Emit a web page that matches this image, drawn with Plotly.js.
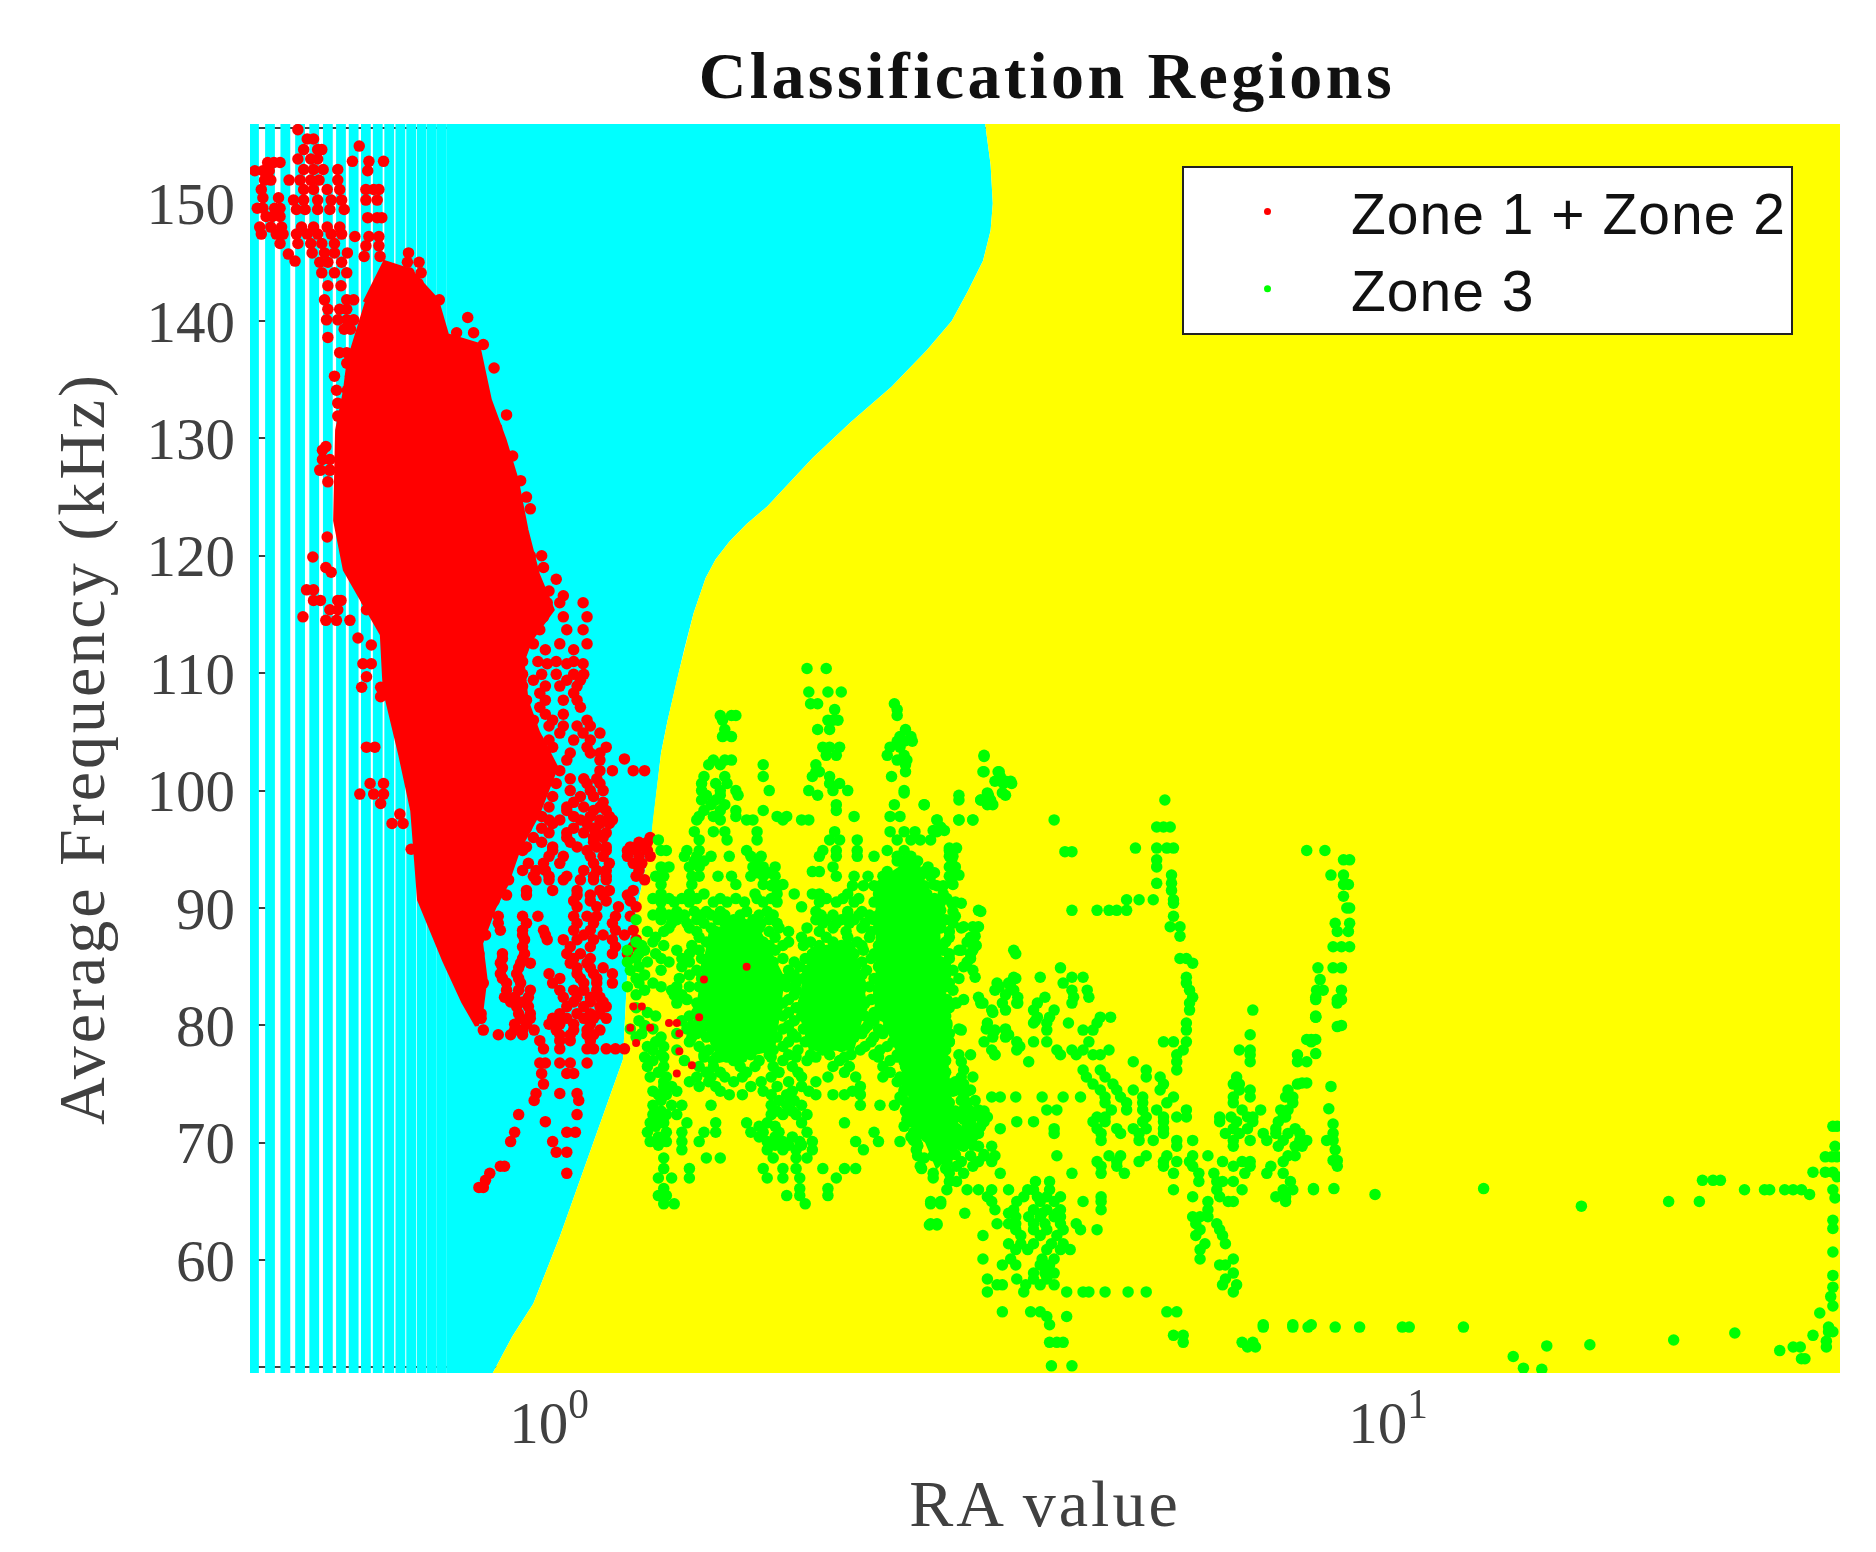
<!DOCTYPE html>
<html>
<head>
<meta charset="utf-8">
<script src="https://cdn.plot.ly/plotly-3.0.1.min.js"></script>
<style>
html,body{margin:0;padding:0;background:#fff}
#chart{width:1876px;height:1552px;filter:blur(0.6px)}
.gtitle{letter-spacing:3.4px}
.xtitle,.ytitle{letter-spacing:3px}
.legendtext{letter-spacing:1px}
</style>
</head>
<body>
<div id="chart"></div>
<script>
const titleText = "Classification Regions";
const xTitle = "RA value";
const yTitle = "Average Frequency (kHz)";
const seriesNames = ["Zone 1 + Zone 2", "Zone 3"];
const yTicks = [60,70,80,90,100,110,120,130,140,150];
const xTicks = [1,10];
const xTickText = ["10<sup>0</sup>","10<sup>1</sup>"];

// classification regions
const stripeRA = [.445,.465,.485,.505,.525,.545,.565,.585,.605,.625,.645,.665,.685,.705,.725,.745,.765,.785,.805];
const boundaryRA = [3.31,3.36,3.38,3.36,3.29,3.16,3.02,2.82,2.56,2.29,2.06,1.82,1.72,1.64,1.58,1.537,1.487,1.449,1.42,1.384,1.36,1.33,1.32,1.26,1.24,1.225,1.118,1.03,.958,.904,.857];
const boundaryFreq = [156.8,153.3,150,147.7,145.1,142.6,140,137.5,134.4,131.4,128.3,124.2,122.7,121.2,119.7,118.1,115.1,112,109.4,105.9,103.2,97.5,95.2,88.6,84.7,77.1,69.1,62,56.3,53.5,50.39];

// the solid part of the Zone 1 + Zone 2 cloud
const coreRA = [.603,.637,.683,.735,.756,.823,.850,.885,.915,.94,.97,1.01,.95,.93,.94,.97,1.02,.97,.92,.89,.86,.83,.84,.83,.82,.79,.75,.70,.687,.665,.637,.632,.571,.556,.559,.571,.579];
const coreFreq = [141.6,145,144.3,141.8,138.8,138,133.3,129.9,126.5,122.2,118.4,115.4,112.8,111,107.7,105,102,98,95,92,90,87,84,81,80,82,85.5,90.7,98.3,103,108.6,113.3,118.8,123,130.7,134,137.5];

// the solid parts of the Zone 3 cloud
const patchARA = [2.45,2.7,2.9,2.95,3.0,3.1,2.9,2.75,2.6,2.45];
const patchAFreq = [92,94,90,80,74,70,68,72,78,82];
const patchBRA = [1.55,1.75,1.9,1.85,1.6,1.5];
const patchBFreq = [88,89,84,78,77,82];
const patchCRA = [2.05,2.3,2.38,2.3,2.05,1.98];
const patchCFreq = [86.5,87,82,78,78,82];

// [frequency, RA, RA, ...]
const zone12Rows = [
[153.5,.462,.470,.478],[152.8,.446,.456,.464],[152,.458,.466],[151.2,.454],[150.5,.456,.476],[149.6,.449,.456,.471,.478],[148.9,.46,.468,.478],[148,.452,.466,.48],[147.4,.454,.473,.482],[146.6,.478],[145.7,.489],[145.1,.498],
[156.3,.502],[155.5,.515,.524],[154.6,.51,.53,.536],[153.8,.502,.52,.53],[152.9,.51,.524,.538,.56],[152,.49,.505,.52,.532,.56],[151.2,.51,.524,.544,.563],[150.3,.496,.51,.53,.55,.566],[149.5,.5,.512,.53,.548,.57],[148,.507,.524,.544,.563],[147.4,.5,.515,.53,.55,.566],[146.6,.502,.52,.536,.555],[145.8,.522,.54,.555,.575],[145,.533,.545,.566],[144.1,.536,.555,.574],[143,.545,.565],[141.8,.54,.574,.585],[141,.545,.563,.574],[140.1,.543,.56,.574,.585],[139.3,.57,.58],[138.6,.545],
[154.9,.594],[153.6,.583,.61,.635],[152.8,.608],[151.2,.605,.618,.627],[150.3,.605,.624],[148.8,.608,.624,.632],[147.2,.587,.61,.627],[146.4,.605,.627],[145.5,.602,.629],[145.8,.68],[145,.678,.7],[144.1,.681,.704],[143.2,.698],[141.8,.72,.74],[140.3,.8],[139,.776,.813],[138,.835],
[137.3,.563,.574],[136.4,.574],[135.3,.555,.58],[134.1,.558,.575],[133,.56,.574],[131.9,.56],[130.9,.866],[129.3,.542],[128.2,.537,.548],[127.3,.534,.548],[126.3,.545],[126.4,.925],
[129,.537],[127.3,.533,.548],[121.6,.544],[119.9,.523],[119,.542],[118.6,.55],[117.1,.514,.524],[116.2,.524,.534,.56,.565,.606],[115.4,.548,.56,.606],[114.5,.542,.558,.579],[114.8,.509],[113,.592],[112.4,.614],[110.8,.6,.614],[109.7,.606],[108.8,.598,.63],[108,.63,.658],[103.7,.606,.62],[100.6,.612,.635],[99.7,.595,.618,.635],[98.9,.63],[98,.664],[97.2,.65,.67],[95,.685],
[136,.86],[132,.89],[128.5,.905],[125,.94],[124,.95],[120,.98,.95],[119,.985],[116.6,1.04],[117,1.0],
[118,1.02],[116,.995,1.03,1.098],[114.8,.985,1.04,1.11],[113.7,.907,.975,1.05,1.098],[112.5,.958,1.03,1.11],[110.8,.907,.995,1.05,1.098],[109.4,.874,.925,.958,1.05,1.09],[108.3,.874,.915,.975,1.07],[107.1,.825,.907,.975,1.09],[106,.798,.874,.958,1.01,1.11],[104.9,.874,.94,1.03,1.098,1.15],[103.7,.825,.874,.958,1.01,1.11,1.17],[102.7,1.23],[102.6,.845,.958,1.05,1.15],[101.7,.958,1.03,1.15,1.19,1.26,1.3],[100.6,.845,.94,1.02,1.11,1.15],[99.5,.874,.925,1.01,1.09,1.13],[98.3,.798,.845,.94,1.05,1.13,1.17],[97.2,.762,.81,.874,.907,1.01,1.11,1.15,1.18],[96,.825,.89,.958,1.05,1.13,1.16,1.32],[94.9,.762,.874,.93,1.01,1.11,1.17,1.24,1.27,1.31],[93.8,.798,.88,.945,.985,1.03,1.13,1.18,1.26,1.29],[92.7,.755,.825,.958,1.0,1.05,1.13,1.17,1.27],[91.5,.728,.81,.94,1.01,1.08,1.15,1.18,1.26],
[98.6,.76,.80,.84,.87,.9,.93,1.0,1.05,1.1,1.15],[97.5,.785,.825,.865,.9,1.0,1.03,1.09,1.15,1.19],[96.4,.775,.81,.85,.89,.92,1.0,1.05,1.1,1.14,1.17],[95.2,.77,.8,.835,.87,.915,.94,1.01,1.08,1.14,1.17,1.25,1.3],[94.4,.78,.82,.86,.895,1.0,1.04,1.12,1.16,1.24,1.28,1.32],[93.2,.76,.8,.835,.87,.93,.965,.99,1.1,1.14,1.17,1.28],[92.4,.79,.83,.87,.895,.965,1.0,1.04,1.09,1.13,1.17,1.3],[91.1,.775,.815,.855,.89,.94,1.08,1.12,1.16,1.24],[90.1,.765,.8,.835,1.08,1.14,1.21,1.27],[89.3,.76,.805,.825,.87,.93,.97,1.07,1.11,1.14,1.2,1.25],[88.1,.785,.82,.875,.93,.985,1.07,1.12,1.2,1.26],[87.3,.79,.82,.935,.995,1.04,1.08,1.13,1.19,1.27],[86.1,.76,.805,.825,.88,.935,1.05,1.09,1.19,1.24],[85.3,.77,.815,.875,.925,.95,1.06,1.11],[84.4,.805,.875,.915,1.0,1.08,1.13,1.19],[83.6,.815,.835,.89,.925,1.01,1.1,1.14,1.19],[82.4,.82,.885,.91,.945,1.04,1.08,1.12,1.15],[81.6,.82,.915,.945,1.05,1.1,1.15,1.17],[80.6,.83,.925,.95,1.01,1.05,1.1,1.13,1.17],[79.6,.835,.91,.93,.96,1.02,1.07,1.11,1.15],[78.7,.975,1.03,1.06,1.12],[78,.985,1.03,1.11,1.13,1.17,1.2,1.23],[76.8,.975,.99,1.03,1.06,1.11],[75.9,.98,1.05,1.07],[75,.985],[74.2,.965,1.03,1.08],[73.6,.96,1.085],[72.4,.92,1.08],[71.8,.99],[70.9,.91,1.05,1.075],[70.1,.9,1.01],[69.2,1.02,1.05],[68,.885,.875],[67.4,.85,1.05],[66.8,.84],[66.2,.825,.835],
[112,.93,.99,1.07],[111,.93,.97,1.02,1.07],[109.9,.93,.98,1.02,1.07,1.1],[108.9,.93,.99,1.03,1.08],[107.7,.94,.99,1.04,1.08],[106.5,.94,.99,1.04],[105.5,.95,1.0,1.04,1.08,1.12],[104.3,.97,1.0,1.07,1.12],[103.2,.99,1.06,1.12,1.15],[101,.99,1.06,1.1,1.14],[100,.96,1.06,1.12,1.16],[99,.97,1.07,1.16],[97.8,.98,1.07,1.12,1.18],[96.8,.94,.98,1.07,1.13],[95.6,.98,1.06,1.13,1.28,1.31],
[90.6,.78,.82,.86,1.07,1.12,1.17,1.25],[88.7,.78,.83,.87,.94,1.08,1.13,1.19],[87.7,.8,.84,.93,.99,1.1,1.16,1.23],[86.7,.79,.82,.93,1.06,1.12,1.2,1.26],[85.7,.78,.82,.88,.93,1.07,1.12],[84.9,.79,.82,.88,.92,1.08,1.12,1.16],[84,.81,.88,.92,1.03,1.09,1.14],[83,.82,.89,.92,.95,1.03,1.07,1.1,1.14],[82,.82,.9,.93,1.07,1.12,1.16],[81,.83,.92,.95,1.03,1.08,1.12,1.15],[80.1,.91,.94,1.0,1.03,1.07,1.12],[79.2,.87,.9,.93,1.03,1.06,1.11,1.13]
];

// Zone 1 + Zone 2 points lying on top of the Zone 3 cloud
const zone12OverlapRows = [
[81.6,1.26,1.29],[85,1.72],[83.9,1.53],[80.7,1.51],[80.2,1.39,1.42],[79.3,1.43],[79.8,1.25,1.32],[78.5,1.27],[77.8,1.43],[76.6,1.48],[75.9,1.42]
];

const zone3Rows = [
[110.4,2.03,2.14],[108.4,2.04,2.15,2.23],[107.4,2.05,2.09,2.58],[106.9,2.19,2.6],[106.4,1.6,1.65,1.67,2.6],[106,1.61,2.15,2.18,2.21],[105.2,1.62,2.09,2.16,2.66],[104.6,1.61,1.65,2.62,2.7],[104.2,2.6,2.65,2.71],[103.7,2.12,2.16,2.22,2.55,2.62],[103,2.14,2.2,2.53,2.65,3.3],[102.6,1.57,1.62,1.65,2.6,2.67],[102.2,1.55,1.6,1.8,2.08,2.66],[101.6,2.08,2.1,3.3,3.44,2.66],[101.2,1.53,1.62,1.8,2.06,2.16,2.56,3.45],[100.6,1.52,1.58,1.63,2.16,2.22,3.48,3.56],[100,1.52,1.6,1.67,1.83,2.04,2.18,2.27,2.65],[99.6,1.54,1.6,1.68,2.09,3.08,3.34,3.5],[99.2,1.52,1.58,3.27,3.36],[98.8,1.56,1.62,2.2,2.8,3.38,2.58],[98.3,1.53,1.6,1.67,1.8,2.2],[97.8,1.51,1.57,1.67,1.87,1.92,2.31,2.55,2.62],[97.5,1.5,1.6,1.72,1.75,1.9,2.0,2.04,2.9,3.08,3.2],[96.5,1.49,1.57,1.62,1.77,2.19,2.55,2.65,2.73,2.9],[95.8,1.35,1.51,1.63,1.77,2.16,2.22,2.33,2.6,2.7,2.77,2.85],[94.9,1.36,1.38,1.46,1.51,1.72,2.2,2.12,2.33,2.53,2.65,3.0],[94.4,1.45,1.5,1.56,1.64,1.74,1.79,2.1,2.2,2.33,2.44,2.6,2.7,3.0,3.03],[93.5,1.36,1.39,1.47,1.51,1.75,1.8,1.86,2.18,2.65,2.73,2.83,3.0],[93.1,2.06,2.1,2.53,2.7,2.8],[92.7,1.34,1.37,1.48,1.51,1.59,1.65,1.74,1.8,1.86,2.2,2.31,2.4,2.5,2.67,2.77,2.85,3.0],[92,1.36,1.48,1.67,1.8,1.85,1.9,2.67,2.87,3.03],[91.2,1.36,1.47,1.53,1.76,1.87,2.06,2.1,2.27,2.47,2.6,2.72,2.82,1.96,2.95],[90.5,1.36,1.41,1.47,1.57,1.63,1.71,1.8,1.87,2.1,2.2,2.31,2.44,2.6,2.77,2.93,3.05],[90.1,2.0],[89.7,1.36,1.42,1.49,1.54,1.6,1.72,1.82,2.08,2.27,2.36,2.5,2.65,2.77,2.87,3.03,3.27],[89,1.27,1.36,1.42,1.5,1.59,1.66,1.75,1.83,2.08,2.14,2.23,2.31,2.44,2.58,2.7,2.83,2.97],[88.3,1.39,1.47,1.56,1.63,1.72,1.78,1.88,2.03,2.18,2.36,2.47,2.63,2.77,2.93,3.1,3.23],[87.5,1.34,1.51,1.6,1.69,1.76,1.86,2.0,2.14,2.27,2.41,2.53,2.72,2.87,3.0,3.18],[86.8,1.29,1.37,1.48,1.57,1.66,1.75,1.83,1.9,2.01,2.1,2.23,2.36,2.47,2.63,2.77,2.93,3.23],[86.1,1.28,1.34,1.47,1.56,1.63,1.72,1.82,2.06,2.18,2.31,2.44,2.58,2.72,2.85,3.0,3.18,3.6],[85.4,1.24,1.31,1.39,1.47,1.58,1.67,1.76,1.85,1.96,2.08,2.2,2.36,2.5,2.63,2.77,2.93,3.15],[84.7,1.25,1.36,1.5,1.57,1.66,1.75,1.83,1.93,2.03,2.14,2.27,2.39,2.53,2.72,2.9,3.03,3.2],[84,1.27,1.43,1.52,1.6,1.69,1.78,1.92,2.01,2.1,2.23,2.31,2.44,2.58,2.75,2.93,3.08,3.6],[83.3,1.24,1.36,1.42,1.47,1.51,1.58,1.67,1.75,1.92,2.03,2.16,2.29,2.41,2.53,2.7,2.82,2.97,3.44,3.55],[82.6,1.27,1.41,1.44,1.54,1.62,1.71,1.8,1.96,2.06,2.18,2.33,2.47,2.63,2.77,2.93,3.5],[81.9,1.42,1.5,1.6,1.67,1.78,1.9,2.01,2.12,2.25,2.38,2.5,2.72,2.93,3.05,3.27,3.62],[81.1,1.31,1.5,1.58,1.71,1.83,1.93,2.06,2.18,2.31,2.44,2.53,2.68,2.8,2.95,3.38],[80.4,1.28,1.44,1.51,1.6,1.67,1.76,1.85,1.96,2.08,2.2,2.31,2.44,2.62,2.77,2.9,3.8],[79.7,1.25,1.33,1.46,1.52,1.63,1.71,1.8,1.9,2.01,2.14,2.27,2.38,2.47,2.67,2.82,2.95,3.08,3.32,3.5],[79,1.27,1.36,1.48,1.54,1.66,1.76,1.87,1.97,2.06,2.18,2.31,2.44,2.6,2.75,2.9,3.38,3.5],[78.2,1.31,1.37,1.51,1.62,1.69,1.8,1.9,2.1,2.23,2.38,2.53,2.67,2.87,3.64],[77.5,1.36,1.53,1.65,1.74,1.83,1.93,2.05,2.16,2.29,2.44,2.6,2.77,2.93,3.08,3.4],
[77.3,1.3,1.37,1.53,1.585,1.63,1.7,1.84,1.97,2.08,2.25,2.47,2.6,2.74,2.87],[76.5,1.31,1.37,1.51,1.57,1.69,1.76,1.85,1.95,2.18,2.28,2.5,2.66,2.78,2.93],[75.6,1.32,1.38,1.5,1.56,1.62,1.7,1.84,2.0,2.15,2.32,2.5,2.7,2.85],[74.8,1.37,1.4,1.51,1.58,1.74,1.87,2.0,2.35,2.7,2.8,2.93],[74.1,1.35,1.38,1.64,1.7,1.84,1.92,2.08,2.18,2.25,2.35,2.72,2.85],[73.2,1.33,1.4,1.44,1.56,1.84,1.92,2.0,2.35,2.48,2.58,2.74,2.9],[72.4,1.33,1.38,1.42,1.84,1.9,1.97,2.03,2.7,2.78,2.93],[71.7,1.32,1.37,1.46,1.58,1.72,1.82,2.0,2.25,2.74,2.87],[70.9,1.31,1.38,1.44,1.53,1.58,1.74,1.8,1.88,2.03,2.44,2.72,2.85],[70.1,1.32,1.38,1.44,1.51,1.82,1.9,1.99,2.06,2.32,2.47,2.62,2.74,2.9],[69.4,1.44,1.82,1.9,1.97,2.06,2.37,2.74,2.9],[68.7,1.37,1.54,1.6,1.85,1.97,2.03,2.8,2.93],[67.8,1.37,1.47,1.8,1.9,1.97,2.12,2.25,2.32,2.78,2.97],[67,1.35,1.4,1.47,1.82,1.9,1.99,2.2,2.87],[66.1,1.37,1.99,2.15],[65.5,1.35,1.38,1.92,1.99,2.15],[64.8,1.37,1.41,2.02,2.85,2.93],[63,2.84,2.9],
[81.9,2.67,2.87,3.06,3.29,3.47,3.61,3.82,4.2,5.8],[81.3,2.62,2.77,2.93,3.37,3.5,3.78,4.0,5.8,6.9],[80.7,2.65,2.8,2.95,3.82,3.95,4.54,4.67,8.2],[80.2,2.7,2.83,2.98,3.33,3.78,3.92,4.16,4.5,5.75],[79.6,2.62,2.74,2.9,3.1,3.4,3.5,3.92,4.33,4.45,5.75],[79.2,2.67,2.8,2.95,3.53,6.85],[78.6,2.62,2.74,2.87,3.0,3.3,3.61,3.78,3.92,4.4,5.4,5.55,5.75,8.1],[77.9,2.67,2.8,2.93,3.37,3.61,4.03,4.2,4.33,4.65,5.7,6.65,6.85],[77.5,2.7,2.87,3.18,3.4,4.07,4.25,4.45,4.54,5.6,7.8,6.85],[76.9,2.65,2.8,2.93,3.1,3.73,4.97,5.6,6.85,7.8],[76.2,2.7,2.87,3.12,4.33,4.54,5.6,5.15],[75.6,2.62,2.77,2.93,3.1,3.2,4.37,4.6,5.15,5.35,6.6],[75,2.67,2.85,3.01,3.12,4.45,4.7,5.4,6.54,6.65,7.8],[74.5,2.65,2.8,2.93,3.06,3.18,4.54,4.75,4.97,5.35,6.65,6.85,7.6],[73.9,2.62,2.74,2.9,3.12,3.37,3.45,3.6,3.87,4.1,4.3,4.6,4.8,5.1,5.55,6.54,6.85,7.55],[73.4,2.7,2.8,3.0,3.15,4.6,4.88,5.1,5.45,6.54,7.7],[72.8,2.67,2.85,2.98,3.12,3.25,3.92,4.03,4.68,4.88,5.1,5.3,5.75,6.7,7.05,7.45,7.6],[72.2,2.72,2.9,3.06,3.2,3.33,4.5,4.6,5.15,5.4,5.6,5.75,6.3,6.5,6.8,6.9,7.5,7.55],[71.8,2.7,2.8,3.0,3.18,3.3,3.61,3.78,4.45,4.6,5.1,5.4,6.3,6.6,6.9,7.4],[71.2,2.75,2.9,3.06,3.2,3.45,4.0,4.5,4.75,4.97,5.15,5.4,6.54,6.8,7.35,7.75],[70.8,2.77,2.95,3.12,3.25,4.0,4.55,4.8,5.05,5.4,6.4,6.65,7.1,7.35,7.6,7.85],[70.2,2.72,2.87,3.03,3.18,4.55,5.05,5.25,5.6,5.85,6.54,6.85,7.17,7.5,7.85,8.0],[69.7,2.75,2.93,3.12,3.25,3.37,5.6,6.54,7.4,7.75,7.9],[68.9,2.75,2.87,3.0,3.18,3.3,3.4,4.03,4.65,4.8,5.15,5.45,5.85,6.1,7.75,7.6],[68.4,2.98,3.1,3.25,3.37,4.5,4.75,5.05,5.4,5.6,5.8,6.35,6.7,6.85,7.5],[68,2.77,3.06,3.2,4.55,4.75,5.4,5.85,6.54,6.85,7.25],[67.4,2.87,3.0,3.12,3.45,4.2,4.55,4.85,5.55,5.95,6.2,6.75,7.17,7.5],[66.7,3.0,3.06,3.95,3.8,5.95,6.25,6.35,6.54,7.65],[66,2.98,3.15,3.25,3.37,3.53,3.72,3.78,3.95,5.55,6.25,6.7,7.5,7.7,8.15],[65.4,5.85,6.3,7.35,7.55,3.33,3.68,3.82,3.92,4.07,4.55],[65,2.85,2.93,3.37,3.61,3.85,4.0,4.33,4.55,6.1,6.45,6.54,7.55],[64.3,3.4,3.58,3.78,3.92,4.07,4.55,6.1],[64,3.13,3.53,3.87,4.03],[63.7,3.6,3.73,3.85,4.0,4.07,5.85,5.97,6.1],[63.1,2.85,2.9,3.42,3.53,3.6,3.78,3.9,4.07,4.25,5.9,6.25],[62.6,3.6,3.78,3.92,4.1,4.3,4.5,5.97,6.3],[62.1,3.29,3.65,3.85,4.03,5.9,6.35],[61.4,3.53,3.65,3.78,3.97,4.1,6.05,6.4],[60.9,3.6,3.72,3.92,4.07,4.18,5.97],[60.1,3.29,3.55,3.87,4.0,5.97,6.54],[59.6,3.47,3.6,3.85,3.95,6.3,6.4],[58.9,3.78,3.9,4.0,6.54],[58.4,3.33,3.61,3.78,3.92,6.4],[57.9,3.42,3.47,3.7,3.85,4.0,6.35,6.6],[57.3,3.33,3.68,4.14,4.33,4.4,4.6,4.9,5.15,6.54],[55.6,3.47,3.75,3.85,5.45,5.6],[55.2,3.92,4.14],[54.5,3.95,7.1,7.7,8.1],[53.6,5.55,5.7],[53,3.95,4.03,4.1,6.7,6.9,5.7],[52.6,6.8,6.95],[51,3.97,4.2],
[81.9,8.7],[80.7,8.2],[79.9,8.7],[78.8,8.0,8.2],[77.6,8.2],[76.9,8.0],[75.1,7.9,8.0],[74.8,8.55],[73.9,7.7],[72.9,8.5],[71.6,8.6],[70.8,8.6],[70.2,8.45,8.6],[69.4,8.65],[68.5,8.6,8.7],[68,8.7],[66.1,8.15,8.62,13],[65.6,9.65],[64.6,17],[54.3,7.1,7.7,8.03,8.65,9.25,10.4,10.6,12.3],[51.8,14.1],[50.8,14.5],[50.7,15.25],[52.7,15.46],[52.8,17.4],
[71.4,33.9,34.3],[69.7,34.1],[68.8,33.2,33.8,34.3],[67.5,32.1,33.2,33.9],[67.1,34.3],[66.8,23.7,24.4,24.9],[66,26.6,28.1,28.5,29.7,30.4,31.1,33.9],[65.6,31.8],[65.3,34.1],[65,21.6,23.5],[63.4,33.9],[62.7,33.9],[60.7,33.9],[58.7,33.9],[57.7,33.9],[56.9,33.7],[56.1,33.9],[55.5,32.7],[54.3,33.5],[53.9,33.5,33.9],[53.6,32.1],[53.1,33.3],[52.6,31,33.3,30.4],[52.3,29.3],[51.6,31.1,31.4],[53.2,21.9],[53.8,25.9],
[102.9,3.3],[101.6,3.29,3.43],[100.8,3.4,3.5,3.55],[99.8,2.65,3.33,3.47],[99.2,3.08,3.27,3.33,5.42],[98.8,2.8,3.33],[97.5,2.9,3.08,3.2,4.0],[96.9,2.93,5.3,5.4,5.5],[96.6,2.87,2.96],[95.1,3.0,3.06,5.0,5.3,5.45,5.55],[94.8,4.12,4.2],[94.1,3.02,5.3],[93.5,3.05,5.3],[92.8,3.02,3.08,5.52],[92.1,3.02,5.3,5.52],[91.5,5.52],[90.7,4.88,5.05,5.25,5.55],[90.4,3.02,3.1,5.55],[89.8,2.93,3.25,4.2,4.5,4.65,4.75,4.88],[89.3,3.05,5.55],[88.4,3.12,3.2,3.25,5.5,5.65],[87.6,3.22,5.65],[86.4,3.08,3.2,3.58],[85.7,3.18,5.65,5.75],[85.3,5.85],[84.9,4.07],[84.1,3.22,3.58,3.85,4.2,4.33,5.75],[83.6,3.42,3.53,4.1,5.75],[83,3.4,3.58,4.2,4.38,5.8],[82.4,3.25,3.62,3.9,4.22,4.4,5.85,8.2],
[94.9,8.0,8.41],[94.1,8.85,9.0],[92.8,8.55,8.85],[92,8.85,8.97],[91,8.85],[90,8.93,9.0],[88.7,8.65,9.0],[88,8.7,8.97],[86.7,8.6,8.8,9.0],[84.9,8.25,8.6,8.8],[83.9,8.3],[83,8.22,8.37,8.8],[82.2,8.2,8.7,8.8],[80.8,8.2],[80,8.8],[78.8,8.1],
[89.4,1.33,1.39,1.45,1.52,1.56,1.62,1.69,1.78,1.85,2.11,2.18,2.27,2.34,2.41,2.47,2.55,2.6,2.68,2.73,2.8,2.9],[90.8,1.33,1.39,1.44,1.5,1.6,1.67,1.77,1.84,2.14,2.24,2.34,2.5,2.55,2.65,2.7,2.8,2.88,2.98],[91.9,2.3,2.37,2.44,2.53,2.63,2.72,2.8,2.9,2.95,1.84,1.88],[93,1.77,1.83,2.63,2.72,2.8,2.88],[94,2.6,2.65,2.75,1.49,1.53,1.77],[88.7,1.4,1.46,1.53,1.62,1.7,1.79,1.87,2.12,2.2,2.28,2.38,2.48,2.55,2.66,2.75,2.87,2.92,3.03],[88,1.31,1.37,1.5,1.58,1.66,1.75,1.83,1.93,2.1,2.26,2.42,2.58,2.7,2.84,3.0],[87.1,1.27,1.33,1.54,1.62,1.72,1.8,1.93,2.05,2.18,2.33,2.5,2.58,2.68,2.83,2.97,3.15],[86.4,1.24,1.3,1.42,1.51,1.6,1.68,1.78,1.86,2.12,2.25,2.37,2.5,2.65,2.8,2.95,3.1],[85.7,1.27,1.36,1.44,1.52,1.62,1.71,1.8,1.9,2.02,2.14,2.27,2.42,2.55,2.7,2.84,3.0],[85,1.28,1.44,1.54,1.63,1.7,1.8,1.99,2.06,2.18,2.32,2.47,2.6,2.8,2.97,3.12],[84.3,1.3,1.47,1.55,1.64,1.72,1.83,1.96,2.06,2.18,2.27,2.36,2.52,2.65,2.82,2.97],[83.6,1.28,1.33,1.57,1.63,1.72,1.85,1.97,2.07,2.2,2.35,2.48,2.63,2.78,2.87,3.0],[83,1.3,1.4,1.55,1.62,1.7,1.82,1.97,2.08,2.22,2.35,2.47,2.6,2.75,2.9,3.03],[82.2,1.46,1.57,1.65,1.75,1.93,2.03,2.15,2.28,2.42,2.55,2.68,2.85,2.98,3.12],[81.5,1.27,1.53,1.63,1.74,1.87,1.97,2.1,2.22,2.36,2.48,2.76,2.9,3.0],[80.8,1.34,1.47,1.55,1.64,1.76,1.9,2.0,2.13,2.26,2.38,2.5,2.72,2.85,2.97],[80,1.3,1.48,1.57,1.69,1.8,1.93,2.05,2.17,2.28,2.4,2.54,2.7,2.85,2.98],[79.3,1.29,1.42,1.5,1.6,1.68,1.83,1.95,2.1,2.24,2.36,2.5,2.63,2.85,3.0],[78.6,1.34,1.47,1.58,1.66,1.78,1.93,2.02,2.14,2.27,2.42,2.57,2.7,2.85,3.0],[77.9,1.33,1.42,1.55,1.7,1.85,1.98,2.12,2.35,2.48,2.63,2.8,2.97],[77,1.33,1.45,1.57,1.66,1.78,1.9,2.03,2.22,2.55,2.68,2.83,2.97],[76,1.35,1.54,1.6,1.72,1.88,1.98,2.25,2.55,2.72,2.83,2.97],[75.2,1.37,1.47,1.55,1.66,1.79,1.93,2.08,2.6,2.75,2.9,3.05],[74.4,1.33,1.42,1.6,1.8,1.95,2.04,2.3,2.65,2.78,2.9,3.03,3.15],[73.6,1.36,1.88,1.96,2.65,2.83,2.95,3.1,3.22],[72.7,1.36,1.87,1.95,2.66,2.82,2.93,3.05,3.18,3.3],[72,1.35,2.67,2.8,2.97,3.12,3.28],[71.4,1.34,1.78,1.86,2.65,2.85,3.0,3.15,3.27],[70.5,1.35,1.78,1.86,1.95,2.7,2.82,2.95,3.1,3.2],[69.8,1.35,1.86,1.93,2.0,2.75,2.87,3.0,3.1,3.2],[69,2.9,3.05,3.3]
];

const zone12RA = zone12Rows.flatMap(r => r.slice(1));
const zone12Freq = zone12Rows.flatMap(r => r.slice(1).map(() => r[0]));
const overlapRA = zone12OverlapRows.flatMap(r => r.slice(1));
const overlapFreq = zone12OverlapRows.flatMap(r => r.slice(1).map(() => r[0]));
const zone3RA = zone3Rows.flatMap(r => r.slice(1));
const zone3Freq = zone3Rows.flatMap(r => r.slice(1).map(() => r[0]));

const xLogRange = [-0.3564, 1.5387];
const yRange = [50.39, 156.78];
const CYAN = "#00ffff", YELLOW = "#ffff00", RED = "#ff0000", GREEN = "#00ff00", INK = "#404040";
const serif = "'Liberation Serif', serif";

const stripeX = stripeRA.flatMap(v => [v, v, null]);
const stripeY = stripeRA.flatMap(() => [yRange[0], yRange[1], null]);

const patch = (x, y, color) => ({x, y, mode: "lines", fill: "toself", fillcolor: color, line: {color, width: 4}, showlegend: false, hoverinfo: "skip"});

const traces = [
  {x: stripeX, y: stripeY, mode: "lines", line: {color: CYAN, width: 9.8}, showlegend: false, hoverinfo: "skip", connectgaps: false},
  {x: [0.79, ...boundaryRA, 0.79], y: [yRange[1], ...boundaryFreq, yRange[0]], mode: "lines", fill: "toself", fillcolor: CYAN, line: {color: CYAN, width: 0}, showlegend: false, hoverinfo: "skip"},
  {x: [...boundaryRA, 36, 36], y: [...boundaryFreq, yRange[0], yRange[1]], mode: "lines", fill: "toself", fillcolor: YELLOW, line: {color: YELLOW, width: 0}, showlegend: false, hoverinfo: "skip"},
  patch(coreRA, coreFreq, RED),
  {x: zone12RA, y: zone12Freq, mode: "markers", name: seriesNames[0], marker: {color: RED, size: 11.5}, legendgroup: "a", showlegend: false},
  patch(patchARA, patchAFreq, GREEN),
  patch(patchBRA, patchBFreq, GREEN),
  patch(patchCRA, patchCFreq, GREEN),
  {x: zone3RA, y: zone3Freq, mode: "markers", name: seriesNames[1], marker: {color: GREEN, size: 11.5}, legendgroup: "b", showlegend: false},
  {x: overlapRA, y: overlapFreq, mode: "markers", marker: {color: RED, size: 8}, legendgroup: "a", showlegend: false},
  {x: [null], y: [null], mode: "markers", name: seriesNames[0], marker: {color: RED, size: 7}, legendgroup: "a"},
  {x: [null], y: [null], mode: "markers", name: seriesNames[1], marker: {color: GREEN, size: 7}, legendgroup: "b"}
];

const layout = {
  width: 1876, height: 1552,
  margin: {l: 250, r: 36, t: 124, b: 179, pad: 0},
  paper_bgcolor: "#ffffff", plot_bgcolor: "#ffffff",
  font: {family: serif, color: INK},
  title: {text: "<b>" + titleText + "</b>", x: 0.558, xanchor: "center", y: 0.952, yanchor: "middle", font: {family: serif, size: 66, color: "#111111"}},
  xaxis: {type: "log", range: xLogRange, tickmode: "array", tickvals: xTicks, ticktext: xTickText, ticks: "", showgrid: false, zeroline: false, showline: false,
    layer: "below traces", tickfont: {family: serif, size: 59, color: INK}, ticklabelstandoff: 10,
    title: {text: xTitle, font: {family: serif, size: 66, color: INK}, standoff: 24}},
  yaxis: {range: yRange, tickmode: "array", tickvals: yTicks, ticks: "inside", ticklen: 16, tickwidth: 1.5, tickcolor: INK, showgrid: false, zeroline: false, showline: false,
    layer: "below traces", tickfont: {family: serif, size: 59, color: INK}, ticklabelstandoff: 14,
    title: {text: yTitle, font: {family: serif, size: 66, color: INK}, standoff: 20}},
  shapes: [
    {type: "line", layer: "below", xref: "paper", x0: 0, x1: 1, yref: "y", y0: 156.44, y1: 156.44, line: {color: INK, width: 2}},
    {type: "line", layer: "below", xref: "paper", x0: 0, x1: 1, yref: "y", y0: 50.9, y1: 50.9, line: {color: INK, width: 2}}
  ],
  legend: {x: (1182 - 250) / 1590, y: (1373 - 166) / 1249, xanchor: "left", yanchor: "top", bgcolor: "#ffffff", bordercolor: "#222222", borderwidth: 2,
    font: {family: "'Liberation Sans', sans-serif", size: 57, color: "#111111"}, itemwidth: 157, entrywidth: 445, entrywidthmode: "pixels", itemclick: false, tracegroupgap: 0},
  showlegend: true,
  hovermode: false
};

Plotly.newPlot("chart", traces, layout, {displayModeBar: false, responsive: false});
</script>
</body>
</html>
